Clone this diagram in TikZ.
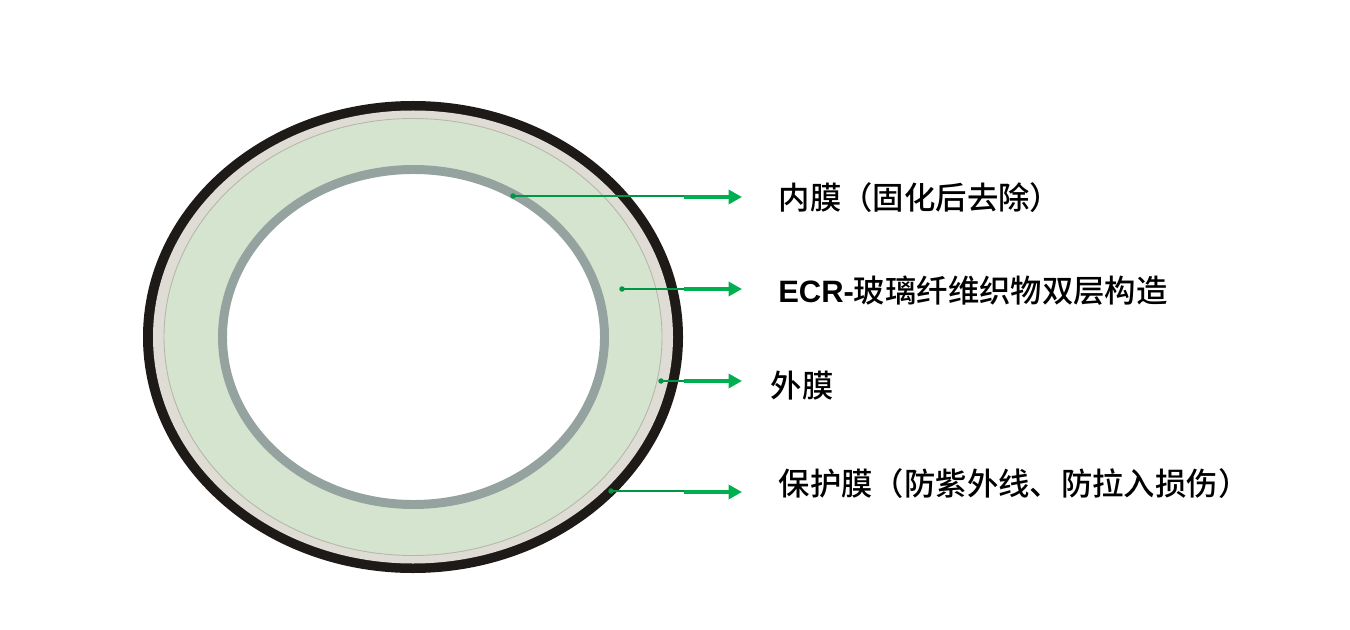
\documentclass[tikz,border=0pt]{standalone}
\usepackage{fontspec}
\usepackage{xcolor}
\setmainfont{Liberation Sans}
\newfontfamily\cjk{Noto Sans CJK SC Medium}
\usetikzlibrary{positioning,arrows.meta}
\definecolor{filmblack}{HTML}{1E1A17}
\definecolor{filmgrey}{HTML}{DFDCD6}
\definecolor{filmedge}{HTML}{B4B8A8}
\definecolor{fabricgreen}{HTML}{D5E4CF}
\definecolor{linergrey}{HTML}{94A3A0}
\definecolor{leadgreen}{HTML}{00B050}
\tikzset{
    leadthin/.style={draw=leadgreen!85!black, line width=1.2pt},
    leadthick/.style={draw=leadgreen, line width=2pt, -{Triangle[length=0.27cm,width=0.28cm]}},
    leaddot/.style={circle, fill=leadgreen!85!black, inner sep=0pt, minimum size=0.11cm},
    filmlabel/.style={anchor=west, inner sep=0pt, font=\fontsize{17.85}{20}\selectfont\cjk, text=black}
}

\begin{document}
\begin{tikzpicture}
    \useasboundingbox (0,0) rectangle (27,12.58);

    % Tube layers
    \fill[filmblack] (8.26,5.84) ellipse (5.40 and 4.72);
    \fill[filmgrey] (8.26,5.84) ellipse (5.20 and 4.53);
    \filldraw[fill=fabricgreen, draw=filmedge, line width=0.5pt] (8.26,5.84) ellipse (4.98 and 4.37);
    \filldraw[fill=white, draw=linergrey, line width=5.1pt] (8.27,5.84) ellipse (3.82 and 3.35);

    % Labels
    \node[filmlabel] (liner) at (15.57,8.62) {内膜（固化后去除）};
    \node[filmlabel] (fabric) at (15.56,6.76) {{\fontsize{17.6}{20}\selectfont\bfseries\rmfamily ECR-}玻璃纤维织物双层构造};
    \node[filmlabel] (outer) at (15.41,4.86) {外膜};
    \node[filmlabel] (guard) at (15.57,2.90) {保护膜（防紫外线、防拉入损伤）};

    % Lead points
    \coordinate (linerA) at (10.26,8.66);
    \coordinate (linerB) at (13.68,8.66);
    \coordinate (linerC) at (14.84,8.64);
    \coordinate (fabricA) at (12.44,6.80);
    \coordinate (fabricB) at (13.68,6.80);
    \coordinate (fabricC) at (14.84,6.80);
    \coordinate (outerA) at (13.22,4.96);
    \coordinate (outerB) at (13.68,4.96);
    \coordinate (outerC) at (14.84,4.96);
    \coordinate (guardA) at (12.22,2.76);
    \coordinate (guardB) at (13.68,2.76);
    \coordinate (guardC) at (14.84,2.74);

    % Leads
    \draw[leadthin] (linerA) -- (linerB);
    \draw[leadthick] (linerB |- linerC) -- (linerC);
    \draw[leadthin] (fabricA) -- (fabricB);
    \draw[leadthick] (fabricB) -- (fabricC);
    \draw[leadthin] (outerA) -- (outerB);
    \draw[leadthick] (outerB) -- (outerC);
    \draw[leadthin] (guardA) -- (guardB);
    \draw[leadthick] (guardB |- guardC) -- (guardC);

    \node[leaddot] (linerdot) at (linerA) {};
    \node[leaddot] (fabricdot) at (fabricA) {};
    \node[leaddot] (outerdot) at (outerA) {};
    \node[leaddot] (guarddot) at (guardA) {};
\end{tikzpicture}
\end{document}
